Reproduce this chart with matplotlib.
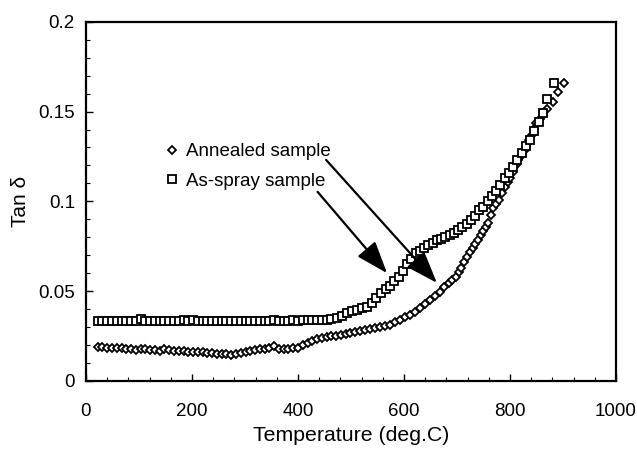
import matplotlib.pyplot as plt
from matplotlib.ticker import MultipleLocator

plt.rcParams['font.family'] = ['Liberation Sans', 'DejaVu Sans']

# === Datos ===
# Annealed sample (rombos)
ann_T = [22, 31, 40, 49, 58, 67, 76, 85, 94, 103, 112, 121, 130, 139, 148, 157,
         166, 175, 184, 193, 202, 211, 220, 229, 238, 247, 256, 265, 274, 283,
         292, 301, 310, 319, 328, 337, 346, 355, 364, 373, 382, 391, 400, 409,
         418, 427, 436, 445, 454, 463, 472, 481, 490, 499, 508, 517, 526, 536,
         545, 555, 564, 574, 583, 592, 601, 611, 620, 630, 639, 649, 658, 668,
         676, 684, 691, 698, 703, 708, 714, 719, 725, 730, 734, 740, 745, 749,
         754, 759, 764, 768, 773, 779, 785, 791, 796, 800, 806, 811, 816, 822,
         826, 830, 836, 841, 846, 850, 856, 862, 870, 881, 891, 902]
ann_tan = [0.0188, 0.0186, 0.0185, 0.0184, 0.0183, 0.0181, 0.0180, 0.0178,
           0.0172, 0.0176, 0.0180, 0.0174, 0.0172, 0.0168, 0.0175, 0.0172,
           0.0168, 0.0166, 0.0165, 0.0163, 0.0160, 0.0158, 0.0160, 0.0157,
           0.0155, 0.0150, 0.0152, 0.0148, 0.0142, 0.0148, 0.0155, 0.0160,
           0.0165, 0.0172, 0.0178, 0.0175, 0.0182, 0.0192, 0.0180, 0.0178,
           0.0180, 0.0182, 0.0185, 0.0200, 0.0212, 0.0222, 0.0232, 0.0238,
           0.0242, 0.0248, 0.0250, 0.0254, 0.0260, 0.0267, 0.0272, 0.0280,
           0.0285, 0.0290, 0.0295, 0.0300, 0.0305, 0.0312, 0.0325, 0.0340,
           0.0354, 0.0368, 0.0385, 0.0407, 0.0428, 0.0450, 0.0472, 0.0497,
           0.0520, 0.0544, 0.0562, 0.0580, 0.0605, 0.0630, 0.0660, 0.0690,
           0.0718, 0.0740, 0.0765, 0.0786, 0.0810, 0.0832, 0.0855, 0.0880,
           0.0925, 0.0964, 0.0985, 0.1010, 0.1045, 0.1080, 0.1105, 0.1130,
           0.1165, 0.1200, 0.1230, 0.1260, 0.1280, 0.1305, 0.1340, 0.1370,
           0.1405, 0.1437, 0.1460, 0.1480, 0.1515, 0.1556, 0.1610, 0.1660]

# As-spray sample (cuadrados)
spr_T = [22, 31, 40, 49, 58, 67, 76, 85, 94, 103, 112, 121, 130, 139, 148, 157,
         166, 175, 184, 193, 202, 211, 220, 229, 238, 247, 256, 265, 274, 283,
         292, 301, 310, 319, 328, 337, 346, 355, 364, 373, 382, 391, 400, 409,
         418, 427, 436, 445, 454, 463, 473, 483, 492, 502, 511, 521, 530, 540,
         548, 557, 566, 574, 582, 590, 598, 606, 614, 622, 630, 638, 646, 654,
         662, 670, 678, 686, 694, 702, 710, 718, 726, 734, 742, 750, 758, 766,
         774, 782, 790, 798, 806, 814, 822, 830, 838, 846, 854, 862, 870, 883]
spr_tan = [0.0333, 0.0334, 0.0336, 0.0334, 0.0335, 0.0333, 0.0335, 0.0334,
           0.0336, 0.0345, 0.0335, 0.0334, 0.0336, 0.0335, 0.0334, 0.0333,
           0.0336, 0.0335, 0.0338, 0.0335, 0.0340, 0.0336, 0.0335, 0.0334,
           0.0335, 0.0336, 0.0334, 0.0335, 0.0333, 0.0336, 0.0335, 0.0334,
           0.0335, 0.0336, 0.0335, 0.0334, 0.0336, 0.0338, 0.0336, 0.0335,
           0.0336, 0.0338, 0.0336, 0.0337, 0.0338, 0.0337, 0.0338, 0.0339,
           0.0340, 0.0343, 0.0349, 0.0362, 0.0377, 0.0387, 0.0396, 0.0405,
           0.0414, 0.0432, 0.0460, 0.0490, 0.0510, 0.0530, 0.0555, 0.0580,
           0.0610, 0.0650, 0.0680, 0.0710, 0.0725, 0.0740, 0.0758, 0.0770,
           0.0782, 0.0790, 0.0800, 0.0815, 0.0825, 0.0840, 0.0855, 0.0875,
           0.0897, 0.0920, 0.0950, 0.0970, 0.1000, 0.1030, 0.1060, 0.1090,
           0.1130, 0.1160, 0.1190, 0.1230, 0.1270, 0.1310, 0.1340, 0.1390,
           0.1440, 0.1490, 0.1570, 0.1660]

# === Figura ===
fig = plt.figure(figsize=(6.37, 4.55), dpi=100)
ax = fig.add_axes([0.135, 0.163, 0.832, 0.789])

ax.plot(ann_T, ann_tan, linestyle='none', marker='D', markersize=3.8,
        markerfacecolor='white', markeredgecolor='black', markeredgewidth=1.3,
        label='Annealed sample')
ax.plot(spr_T, spr_tan, linestyle='none', marker='s', markersize=5.2,
        markerfacecolor='white', markeredgecolor='black', markeredgewidth=1.3,
        label='As-spray sample')

# flechas
flecha = dict(arrowstyle='-|>,head_length=1.1,head_width=0.4',
              mutation_scale=18, lw=1.6, color='black', shrinkA=0, shrinkB=0)
ax.annotate('', xy=(662, 0.0546), xytext=(453, 0.1231), arrowprops=flecha)
ax.annotate('', xy=(568, 0.0600), xytext=(437, 0.1053), arrowprops=flecha)

ax.legend(loc='upper left', bbox_to_anchor=(0.1525, 0.662), frameon=False,
          fontsize=13.5, handlelength=0.6, handletextpad=0.4,
          labelspacing=0.65, borderpad=0, borderaxespad=0)

ax.set_xlim(0, 1000)
ax.set_ylim(0, 0.2)
ax.xaxis.set_major_locator(MultipleLocator(200))
ax.xaxis.set_minor_locator(MultipleLocator(40))
ax.yaxis.set_major_locator(MultipleLocator(0.05))
ax.yaxis.set_minor_locator(MultipleLocator(0.01))
ax.set_yticks([0, 0.05, 0.1, 0.15, 0.2])
ax.set_yticklabels(['0', '0.05', '0.1', '0.15', '0.2'])
ax.tick_params(which='both', direction='in', labelsize=13.5, pad=8)
ax.tick_params(which='major', length=5, width=1)
ax.tick_params(which='minor', length=3, width=0.8)
ax.tick_params(axis='x', pad=16)
for s in ax.spines.values():
    s.set_linewidth(1.6)

ax.set_xlabel('Temperature (deg.C)', fontsize=15.3, labelpad=4)
ax.set_ylabel('Tan δ', fontsize=15, labelpad=6)

fig.savefig('out.png', dpi=100)
